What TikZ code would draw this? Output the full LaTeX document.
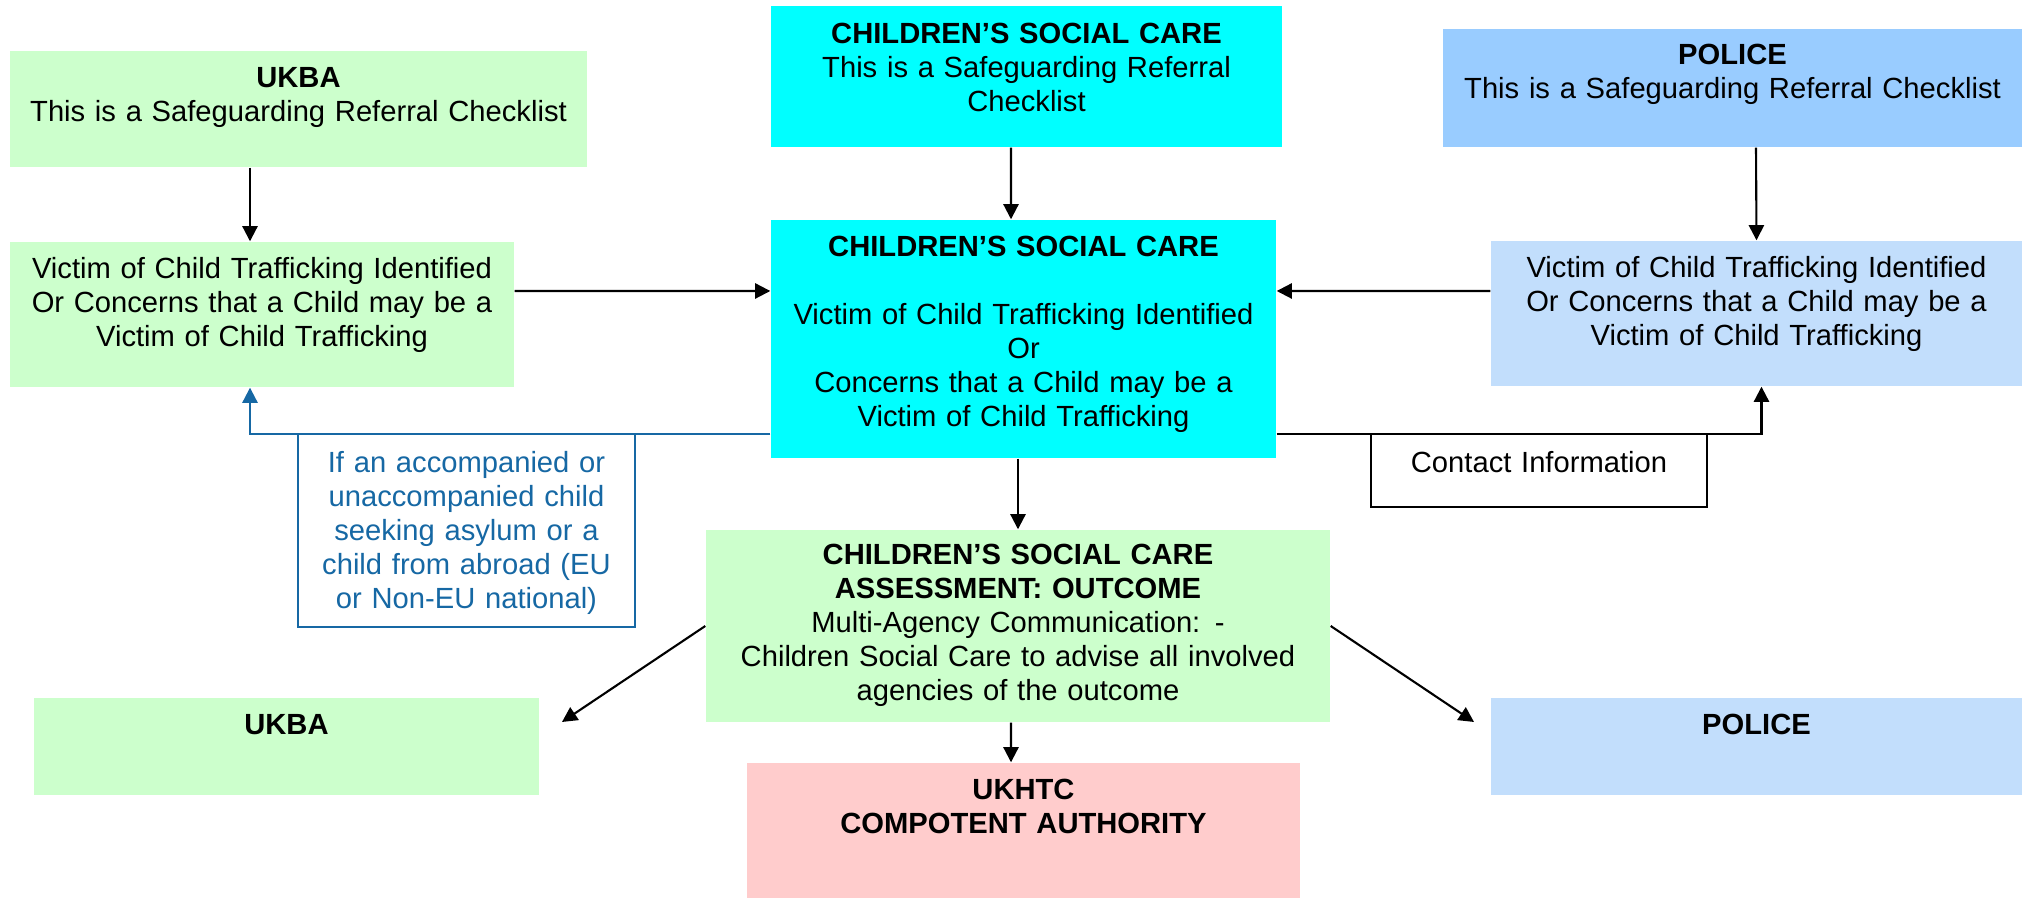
\documentclass[tikz,border=0pt]{standalone}
\usepackage{fontspec}
\setmainfont{Liberation Sans}
\usepackage{xcolor}
\definecolor{refgreen}{RGB}{204,255,204}
\definecolor{refcyan}{RGB}{0,255,255}
\definecolor{refblue}{RGB}{153,204,255}
\definecolor{refpaleblue}{RGB}{194,222,252}
\definecolor{refpink}{RGB}{255,204,204}
\definecolor{refnavy}{RGB}{22,104,164}
\usepackage{tikz}
\usetikzlibrary{arrows.meta, positioning, calc}
\newcommand{\boxfont}{\fontsize{8.3pt}{9.65pt}\selectfont}

\begin{document}
\begin{tikzpicture}[
    box/.style={rectangle, inner sep=0pt, align=center, font=\boxfont},
    arr/.style={-{Triangle[length=4.3pt,width=4.3pt]}, line width=0.6pt}]
  \useasboundingbox (0,0) rectangle (20.26,8.98);

  % Referral checklists (top row)
  \node[box, fill=refgreen, text width=5.77cm, text height=0.37cm, text depth=0.79cm]
        (ukbaRef) at (2.985,7.89) {\textbf{UKBA}\\This is a Safeguarding Referral Checklist};
  \node[box, fill=refcyan, text width=5.11cm, text height=0.38cm, text depth=1.03cm]
        (cscRef) at (10.265,8.215) {\textbf{CHILDREN’S SOCIAL CARE}\\This is a Safeguarding Referral\\Checklist};
  \node[box, fill=refblue, text width=5.79cm, text height=0.36cm, text depth=0.82cm]
        (policeRef) at (17.325,8.10) {\textbf{POLICE}\\This is a Safeguarding Referral Checklist};

  % Victim identified
  \node[box, fill=refgreen, text width=5.04cm, text height=0.37cm, text depth=1.08cm]
        (ukbaVictim) at (2.62,5.835) {Victim of Child Trafficking Identified\\Or Concerns that a Child may be a\\Victim of Child Trafficking};
  \node[box, fill=refcyan, text width=5.05cm, text height=0.37cm, text depth=2.01cm]
        (cscMain) at (10.235,5.59) {\textbf{CHILDREN’S SOCIAL CARE}\\[9.65pt]Victim of Child Trafficking Identified\\Or\\Concerns that a Child may be a\\Victim of Child Trafficking};
  \node[box, fill=refpaleblue, text width=5.31cm, text height=0.37cm, text depth=1.08cm]
        (policeVictim) at (17.565,5.845) {Victim of Child Trafficking Identified\\Or Concerns that a Child may be a\\Victim of Child Trafficking};

  % Feedback routes
  \draw[arr, draw=refnavy] ([yshift=-0.95cm]cscMain.west) -| ([xshift=-0.12cm]ukbaVictim.south);
  \draw[arr] ([yshift=-0.95cm]cscMain.east) -| ([xshift=0.05cm]policeVictim.south);
  \node[box, draw=refnavy, line width=0.6pt, fill=white, text=refnavy, text width=3.37cm,
        text height=0.39cm, text depth=1.54cm]
        (asylumNote) at (4.665,3.675) {If an accompanied or\\unaccompanied child\\seeking asylum or a\\child from abroad (EU\\or Non-EU national)};
  \node[box, draw=black, line width=0.6pt, fill=white, text width=3.36cm,
        text height=0.39cm, text depth=0.34cm]
        (contactBox) at (15.39,4.275) {Contact Information};

  % Assessment and outcomes
  \node[box, fill=refgreen, text width=6.24cm, text height=0.35cm, text depth=1.57cm]
        (assessBox) at (10.18,2.72) {\textbf{CHILDREN’S SOCIAL CARE}\\\textbf{ASSESSMENT: OUTCOME}\\Multi-Agency Communication: -\\Children Social Care to advise all involved\\agencies of the outcome};
  \node[box, fill=refpink, text width=5.53cm, text height=0.37cm, text depth=0.98cm]
        (ukhtcBox) at (10.235,0.675) {\textbf{UKHTC}\\\textbf{COMPOTENT AUTHORITY}};
  \node[box, fill=refgreen, text width=5.05cm, text height=0.37cm, text depth=0.60cm]
        (ukbaOut) at (2.865,1.515) {\textbf{UKBA}};
  \node[box, fill=refpaleblue, text width=5.31cm, text height=0.37cm, text depth=0.60cm]
        (policeOut) at (17.565,1.515) {\textbf{POLICE}};
  \coordinate (ukbaIn) at (5.62,1.76);
  \coordinate (policeIn) at (14.74,1.76);

  % Arrows
  \draw[arr] ([xshift=-0.485cm]ukbaRef.south) -- ([xshift=-0.12cm]ukbaVictim.north);
  \draw[arr] ([xshift=-0.155cm]cscRef.south) -- ([xshift=-0.125cm]cscMain.north);
  \draw[arr] ([xshift=0.235cm]policeRef.south) -- (policeVictim.north);
  \draw[arr] ([yshift=0.235cm]ukbaVictim.east) -- ([yshift=0.48cm]cscMain.west);
  \draw[arr] ([yshift=0.225cm]policeVictim.west) -- ([yshift=0.48cm]cscMain.east);
  \draw[arr] (assessBox.north |- cscMain.south) -- (assessBox.north);
  \draw[arr] ([xshift=-0.07cm]assessBox.south) -- ([xshift=-0.125cm]ukhtcBox.north);
  \draw[arr] (assessBox.west) -- (ukbaIn);
  \draw[arr] (assessBox.east) -- (policeIn);
\end{tikzpicture}
\end{document}
